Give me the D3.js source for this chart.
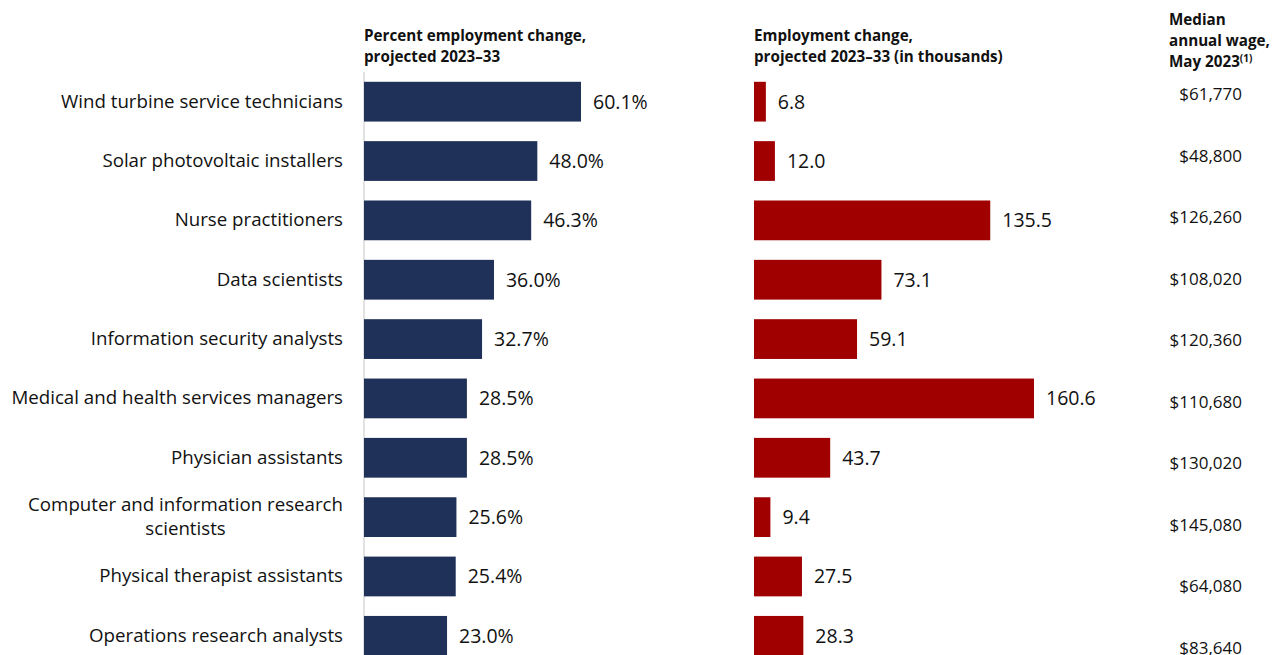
<!DOCTYPE html>
<html>
<head>
<meta charset="utf-8">
<script src="https://cdn.jsdelivr.net/npm/d3@7"></script>
<style>
  body { margin: 0; background: #fff; }
  text { font-family: "Open Sans", Lato, sans-serif; fill: #111; }
  .hdr { font-weight: bold; font-size: 15.2px; }
</style>
</head>
<body>
<div id="main"></div>
<script>
// occupations and values
const occupations = [
  ["Wind turbine service technicians"],
  ["Solar photovoltaic installers"],
  ["Nurse practitioners"],
  ["Data scientists"],
  ["Information security analysts"],
  ["Medical and health services managers"],
  ["Physician assistants"],
  ["Computer and information research", "scientists"],
  ["Physical therapist assistants"],
  ["Operations research analysts"]
];
const pctChange = [60.1, 48.0, 46.3, 36.0, 32.7, 28.5, 28.5, 25.6, 25.4, 23.0];
const numChange = [6.8, 12.0, 135.5, 73.1, 59.1, 160.6, 43.7, 9.4, 27.5, 28.3];
const medianWage = [61770, 48800, 126260, 108020, 120360, 110680, 130020, 145080, 64080, 83640];

const width = 1272, height = 655;

const svg = d3.select("#main").append("svg")
    .attr("width", width)
    .attr("height", height);

const rows = d3.range(occupations.length);

//row positions
const y = d3.scaleBand().domain(rows).range([72, 72 + 59.35 * rows.length]).paddingInner(0.33).paddingOuter(0.165);
const yWage = d3.scaleBand().domain(rows).range([73, 73 + 61.5 * rows.length]);

const xPct = d3.scaleLinear().domain([0, 60.1]).range([364, 581]);
const xNum = d3.scaleLinear().domain([0, 160.6]).range([754, 1034]);

//headers
const hdr = svg.append("g").attr("class", "hdr");
hdr.append("text").attr("x", 364).attr("y", 41).text("Percent employment change,").attr("class", "hdr");
hdr.append("text").attr("x", 364).attr("y", 62).text("projected 2023\u201333").attr("class", "hdr");
hdr.append("text").attr("x", 754).attr("y", 41).text("Employment change,").attr("class", "hdr");
hdr.append("text").attr("x", 754).attr("y", 62).text("projected 2023\u201333 (in thousands)").attr("class", "hdr");
hdr.append("text").attr("x", 1169).attr("y", 25).text("Median").attr("class", "hdr");
hdr.append("text").attr("x", 1169).attr("y", 46).text("annual wage,").attr("class", "hdr");
const may = hdr.append("text").attr("x", 1169).attr("y", 67).attr("class", "hdr");
may.append("tspan").text("May 2023");
may.append("tspan").text("(1)").attr("font-size", "10px").attr("dy", -5);

//baseline of percent bars
svg.append("line")
    .attr("x1", xPct(0)).attr("x2", xPct(0))
    .attr("y1", 72).attr("y2", height)
    .attr("stroke", "#d9d9d9").attr("stroke-width", 1.5);

//category labels
const labels = svg.append("g").selectAll("text")
    .data(rows).enter().append("text")
    .attr("font-size", "18.7px")
    .attr("text-anchor", "middle");

labels.each(function(i) {
    const t = d3.select(this);
    const lines = occupations[i];
    lines.forEach(s => t.append("tspan").text(s));
    let maxW = 0;
    t.selectAll("tspan").each(function() { maxW = Math.max(maxW, this.getComputedTextLength()); });
    const cx = 343 - maxW / 2;
    const cy = y(i) + y.bandwidth() / 2;
    const lh = 24;
    t.selectAll("tspan")
        .attr("x", cx)
        .attr("y", (d, k) => cy + 6 + (k - (lines.length - 1) / 2) * lh);
});

//percent bars
svg.append("g").selectAll("rect")
    .data(rows).enter().append("rect")
    .attr("x", xPct(0))
    .attr("y", i => y(i))
    .attr("width", i => xPct(pctChange[i]) - xPct(0))
    .attr("height", y.bandwidth())
    .attr("fill", "#1f3158");

svg.append("g").selectAll("text")
    .data(rows).enter().append("text")
    .attr("x", i => xPct(pctChange[i]) + 12)
    .attr("y", i => y(i) + y.bandwidth() / 2 + 7)
    .attr("font-size", "19.5px")
    .text(i => d3.format(".1f")(pctChange[i]) + "%");

//numeric bars
svg.append("g").selectAll("rect")
    .data(rows).enter().append("rect")
    .attr("x", xNum(0))
    .attr("y", i => y(i))
    .attr("width", i => xNum(numChange[i]) - xNum(0))
    .attr("height", y.bandwidth())
    .attr("fill", "#a00000");

svg.append("g").selectAll("text")
    .data(rows).enter().append("text")
    .attr("x", i => xNum(numChange[i]) + 12)
    .attr("y", i => y(i) + y.bandwidth() / 2 + 7)
    .attr("font-size", "19.5px")
    .text(i => d3.format(".1f")(numChange[i]));

//wages
svg.append("g").selectAll("text")
    .data(rows).enter().append("text")
    .attr("x", 1242)
    .attr("y", i => yWage(i) + 27)
    .attr("text-anchor", "end")
    .attr("font-size", "17px")
    .text(i => "$" + d3.format(",")(medianWage[i]));
</script>
</body>
</html>
